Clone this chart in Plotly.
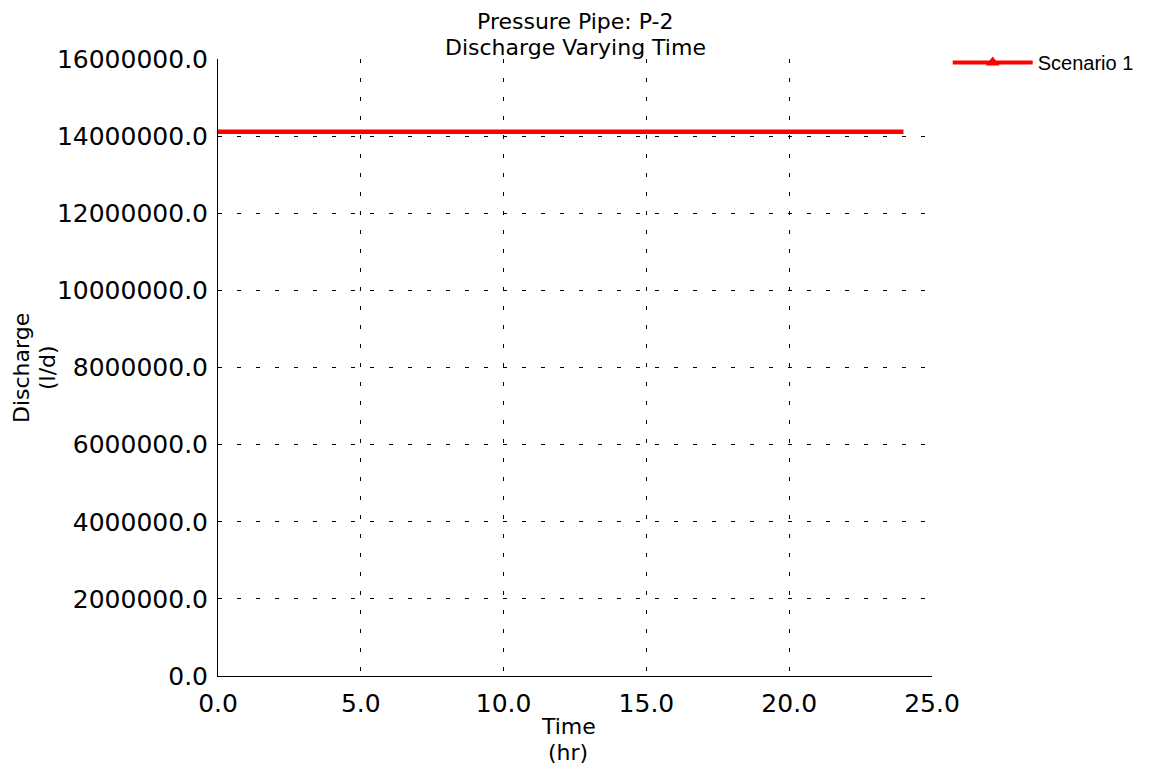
import plotly.graph_objects as go

time_hr = [0.0, 24.0]
discharge_ld = [14112000.0, 14112000.0]
series_name = "Scenario 1"
title_lines = ["Pressure Pipe: P-2", "Discharge Varying Time"]
x_title_lines = ["Time", "(hr)"]
y_title_lines = ["Discharge", "(l/d)"]

wide = "DejaVu Sans, Verdana, sans-serif"


def py(screen_y):
    return (676 - screen_y) / 617.0


def px(screen_x):
    return (screen_x - 218) / 714.0


fig = go.Figure()
fig.add_trace(go.Scatter(x=time_hr, y=discharge_ld, mode="lines",
                         line=dict(color="#ff0000", width=4.5), showlegend=False))
fig.add_trace(go.Scatter(x=[None], y=[None], mode="lines+markers", name=series_name,
                         line=dict(color="#ff0000", width=4),
                         marker=dict(symbol="triangle-up", size=12, color="#ff0000")))

common = dict(xref="paper", yref="paper", xanchor="center", yanchor="middle",
              showarrow=False, borderpad=0)
annotations = [
    dict(text=title_lines[0], x=0.5, y=py(21.5), font=dict(family=wide, size=22, color="black"), **common),
    dict(text=title_lines[1], x=0.5, y=py(47), font=dict(family=wide, size=22, color="black"), **common),
    dict(text=x_title_lines[0], x=px(568), y=py(726), font=dict(family=wide, size=22, color="black"), **common),
    dict(text=x_title_lines[1], x=px(568), y=py(752), font=dict(family=wide, size=22, color="black"), **common),
    dict(text=y_title_lines[0], x=px(21.5), y=0.5, textangle=-90,
         font=dict(family=wide, size=22, color="black"), **common),
    dict(text=y_title_lines[1], x=px(47.5), y=0.5, textangle=-90,
         font=dict(family=wide, size=22, color="black"), **common),
]

fig.update_layout(
    width=1152, height=769,
    paper_bgcolor="white", plot_bgcolor="white",
    margin=dict(l=210, r=228, t=51, b=101, autoexpand=False),
    font=dict(family=wide, color="black"),
    annotations=annotations,
    legend=dict(x=1.022, xanchor="left", y=1.026, yanchor="top",
                font=dict(family="Liberation Sans, Arial, sans-serif", size=20, color="black"),
                bgcolor="rgba(0,0,0,0)", itemwidth=80),
    xaxis=dict(range=[0, 25], dtick=5, tick0=0, tickformat=".1f",
               showgrid=True, gridcolor="black", griddash="4px,15px", gridwidth=1,
               showline=True, linecolor="black", linewidth=1, zeroline=False,
               ticks="", tickfont=dict(size=25, family=wide), ticklabelstandoff=5),
    yaxis=dict(range=[0, 16000000], dtick=2000000, tick0=0, tickformat=".1f",
               showgrid=True, gridcolor="black", griddash="4px,15px", gridwidth=1,
               showline=True, linecolor="black", linewidth=1, zeroline=False,
               ticks="", tickfont=dict(size=25, family=wide), ticklabelstandoff=4),
)
fig.write_html("out.html")
